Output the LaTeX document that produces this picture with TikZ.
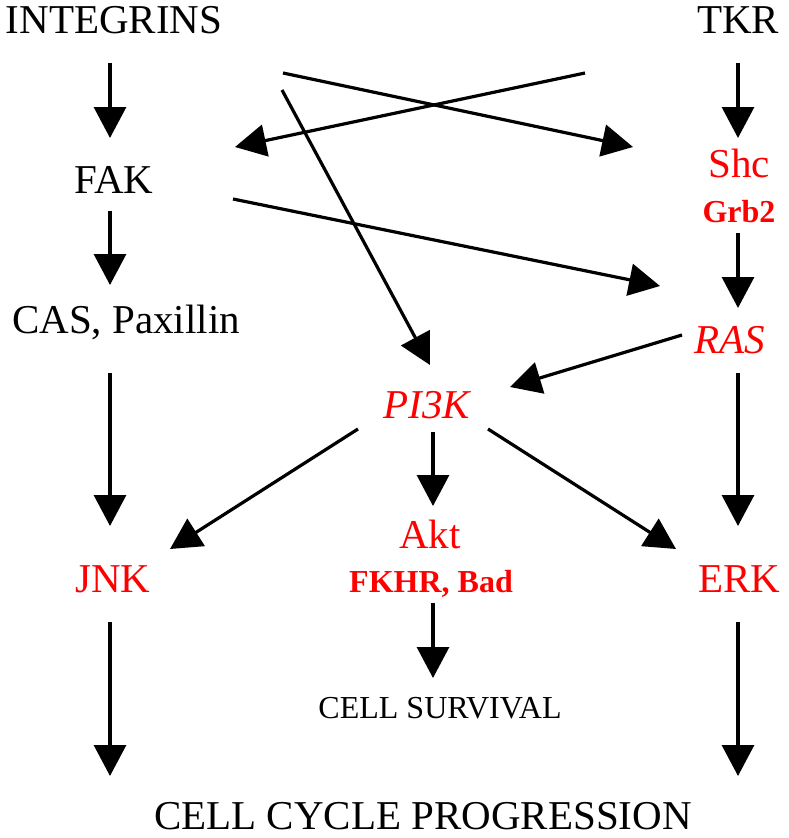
\documentclass[tikz,border=0pt]{standalone}
\usepackage{fontspec}
\setmainfont{Liberation Serif}
\usetikzlibrary{arrows.meta}
\definecolor{sigred}{RGB}{255,0,0}
\begin{document}
\begin{tikzpicture}[x=1pt,y=-1pt,
  lbl/.style={anchor=base,inner sep=0pt,font=\fontsize{41}{41}\selectfont},
  lblit/.style={anchor=base,inner sep=0pt,font=\fontsize{41}{41}\selectfont\itshape},
  sml/.style={anchor=base,inner sep=0pt,font=\fontsize{32}{32}\selectfont},
  smlbf/.style={anchor=base,inner sep=0pt,font=\fontsize{32}{32}\selectfont\bfseries},
  hit/.style={text=sigred},
  arr/.style={line width=3.2pt,-{Triangle[length=31pt,width=32pt]}}]
\useasboundingbox (0,0) rectangle (788,838);
\fill[white] (0,0) rectangle (788,838);
% nodes
\node[lbl] (integrins) at (114,33) {INTEGRINS};
\node[lbl] (tkr) at (738,33) {TKR};
\node[lbl] (fak) at (114,193) {FAK};
\node[lbl] (cas) at (126,333) {CAS, Paxillin};
\node[lbl,hit] (jnk) at (113,592) {JNK};
\node[lbl,hit] (shc) at (739,177) {Shc};
\node[smlbf,hit] (grb) at (739,222) {Grb2};
\node[lblit,hit] (ras) at (730,353) {RAS};
\node[lbl,hit] (erk) at (739,592) {ERK};
\node[lblit,hit] (pik) at (427,418) {PI3K};
\node[lbl,hit] (akt) at (430,548) {Akt};
\node[smlbf,hit] (fkhr) at (431,592) {FKHR, Bad};
\node[sml] (surv) at (440,718) {CELL SURVIVAL};
\node[lbl,text depth=0pt] (ccp) at (423,829) {CELL CYCLE PROGRESSION};
% connector ends
\coordinate (a1) at (110,63);  \coordinate (b1) at (110,138);
\coordinate (a2) at (110,211); \coordinate (b2) at (110,285);
\coordinate (a3) at (110,373); \coordinate (b3) at (110,526);
\coordinate (a4) at (110,622); \coordinate (b4) at (110,776);
\coordinate (c1) at (738,63);  \coordinate (d1) at (738,138);
\coordinate (c2) at (738,233); \coordinate (d2) at (738,308);
\coordinate (c3) at (738,373); \coordinate (d3) at (738,526);
\coordinate (c4) at (738,622); \coordinate (d4) at (738,776);
\coordinate (m1) at (433,432); \coordinate (n1) at (433,506);
\coordinate (m2) at (433,603); \coordinate (n2) at (433,678);
\coordinate (e1) at (283,73);  \coordinate (f1) at (633,147);
\coordinate (e2) at (585,73);  \coordinate (f2) at (235,147);
\coordinate (e3) at (282,90);  \coordinate (f3) at (430,365);
\coordinate (e4) at (233,199); \coordinate (f4) at (660,286);
\coordinate (e5) at (682,335); \coordinate (f5) at (510,387);
\coordinate (e6) at (358,429); \coordinate (f6) at (170,549);
\coordinate (e7) at (488,429); \coordinate (f7) at (676,549);
% connectors
\foreach \s/\t in {a1/b1,a2/b2,a3/b3,a4/b4,c1/d1,c2/d2,c3/d3,c4/d4,m1/n1,m2/n2,e1/f1,e2/f2,e3/f3,e4/f4,e5/f5,e6/f6,e7/f7}
  \draw[arr] (\s) -- (\t);
\end{tikzpicture}
\end{document}
